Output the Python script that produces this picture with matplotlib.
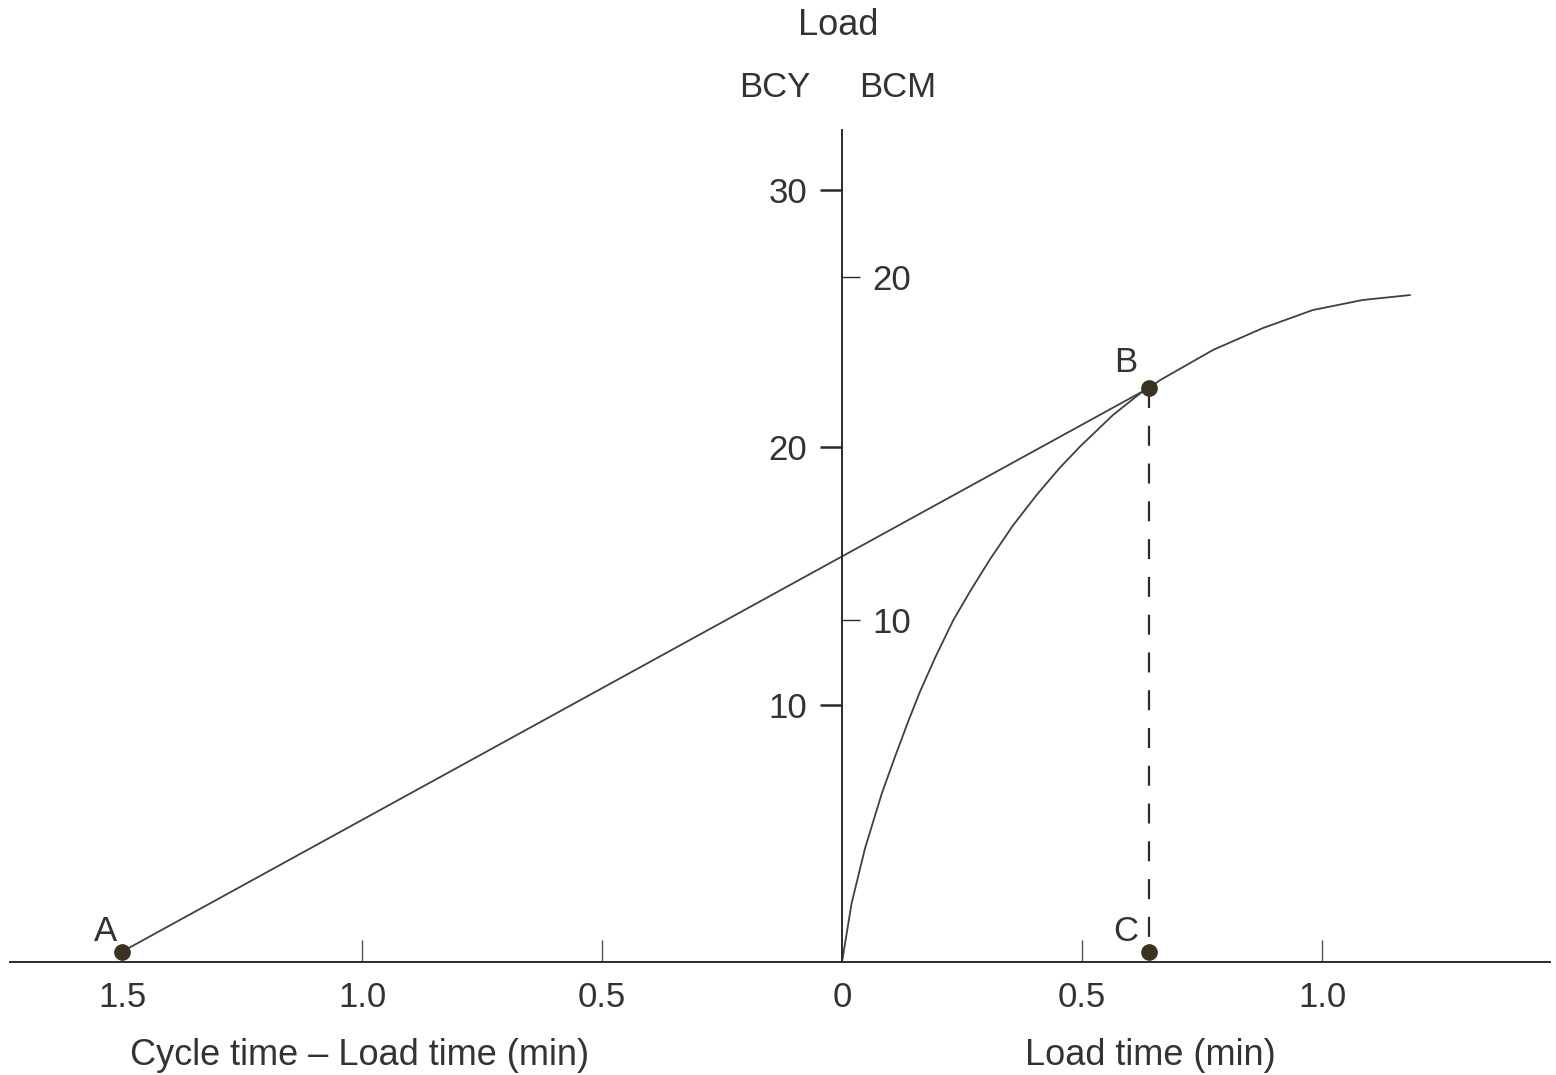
import matplotlib
matplotlib.use("Agg")
import matplotlib.pyplot as plt

plt.rcParams['font.family'] = ['Liberation Sans', 'DejaVu Sans']

# load growth curve: load (BCY) against load time (min)
curve_time = [0, 0.020, 0.048, 0.083, 0.110, 0.138, 0.1625, 0.194, 0.232, 0.267,
              0.308, 0.356, 0.406, 0.454, 0.496, 0.565, 0.621, 0.64, 0.663,
              0.773, 0.877, 0.981, 1.085, 1.183]
curve_load = [0, 2.28, 4.42, 6.55, 7.95, 9.35, 10.5, 11.82, 13.28, 14.4,
              15.63, 16.95, 18.15, 19.2, 20.02, 21.25, 22.08, 22.3, 22.6,
              23.77, 24.62, 25.32, 25.71, 25.9]

# marked points (x < 0 is cycle time - load time)
point_names = ["A", "B", "C"]
point_x = [-1.5, 0.64, 0.64]
point_y = [0.4, 22.3, 0.4]

bcy_ticks = [10, 20, 30]
bcm_ticks = [10, 20]
bcy_per_bcm = 1.33

x_ticks = [-1.5, -1.0, -0.5, 0, 0.5, 1.0]
x_tick_labels = ["1.5", "1.0", "0.5", "0", "0.5", "1.0"]

ink = "#2b2b2b"
text_col = "#333333"

fig = plt.figure(figsize=(15.56, 10.75), dpi=100)
ax = fig.add_axes([0, 0, 1, 1])
xmin, xmax = -1.7542, 1.4875
ax.set_xlim(xmin, xmax)
ax.set_ylim(-4.388, 37.36)

# axes drawn as spines crossing at the origin
ax.spines['top'].set_visible(False)
ax.spines['right'].set_visible(False)
ax.spines['left'].set_position(('data', 0))
ax.spines['bottom'].set_position(('data', 0))
ax.spines['left'].set_bounds(0, 32.3)
ax.spines['bottom'].set_bounds(-1.733, 1.475)
ax.spines['left'].set_linewidth(1.4)
ax.spines['bottom'].set_linewidth(1.4)
ax.spines['left'].set_color(ink)
ax.spines['bottom'].set_color(ink)

ax.set_yticks(bcy_ticks)
ax.set_yticklabels([str(v) for v in bcy_ticks])
ax.tick_params(axis='y', direction='out', length=16, width=1.8, pad=9,
               labelsize=25, colors=ink, labelcolor=text_col)

ax.set_xticks(x_ticks)
ax.set_xticklabels(x_tick_labels)
ax.tick_params(axis='x', direction='in', length=16, width=1.0, pad=14,
               labelsize=25, colors="#555555", labelcolor=text_col)
for i in [0, 3]:
    ax.xaxis.get_major_ticks()[i].tick1line.set_visible(False)

# BCM scale on the right side of the same vertical axis
loc = (0 - xmin) / (xmax - xmin)
sec = ax.secondary_yaxis(loc, functions=(lambda y: y / bcy_per_bcm,
                                         lambda y: y * bcy_per_bcm))
sec.set_yticks(bcm_ticks)
sec.set_yticklabels([str(v) for v in bcm_ticks])
for s in sec.spines.values():
    s.set_visible(False)
sec.tick_params(axis='y', direction='out', length=13, width=1.0, pad=9,
                labelsize=25, colors=ink, labelcolor=text_col)

# curve, line A-B, dashed B-C
ax.plot(curve_time, curve_load, color="#404040", lw=1.3)
ax.plot([point_x[0], point_x[1]], [point_y[0], point_y[1]], color="#404040", lw=1.3)
ax.plot([point_x[1], point_x[2]], [point_y[1], point_y[2]], color=ink, lw=1.6,
        dashes=(9, 8))
ax.plot(point_x, point_y, 'o', color="#3a3320", ms=11, zorder=5)

# point letters
label_dx = [-0.034, -0.048, -0.048]
label_dy = [0.77, 1.0, 0.77]
for n, x, y, dx, dy in zip(point_names, point_x, point_y, label_dx, label_dy):
    ax.text(x + dx, y + dy, n, fontsize=25, color=text_col, ha='center', va='center')

# axis titles
fig.text(0.5386, 0.9767, "Load", fontsize=26, color=text_col, ha='center', va='center')
fig.text(0.498, 0.919, "BCY", fontsize=25, color=text_col, ha='center', va='center')
fig.text(0.577, 0.919, "BCM", fontsize=25, color=text_col, ha='center', va='center')
fig.text(0.2314, 0.0186, "Cycle time \u2013 Load time (min)", fontsize=26,
         color=text_col, ha='center', va='center')
fig.text(0.739, 0.0186, "Load time (min)", fontsize=26, color=text_col,
         ha='center', va='center')

fig.savefig("out.png", dpi=100)
